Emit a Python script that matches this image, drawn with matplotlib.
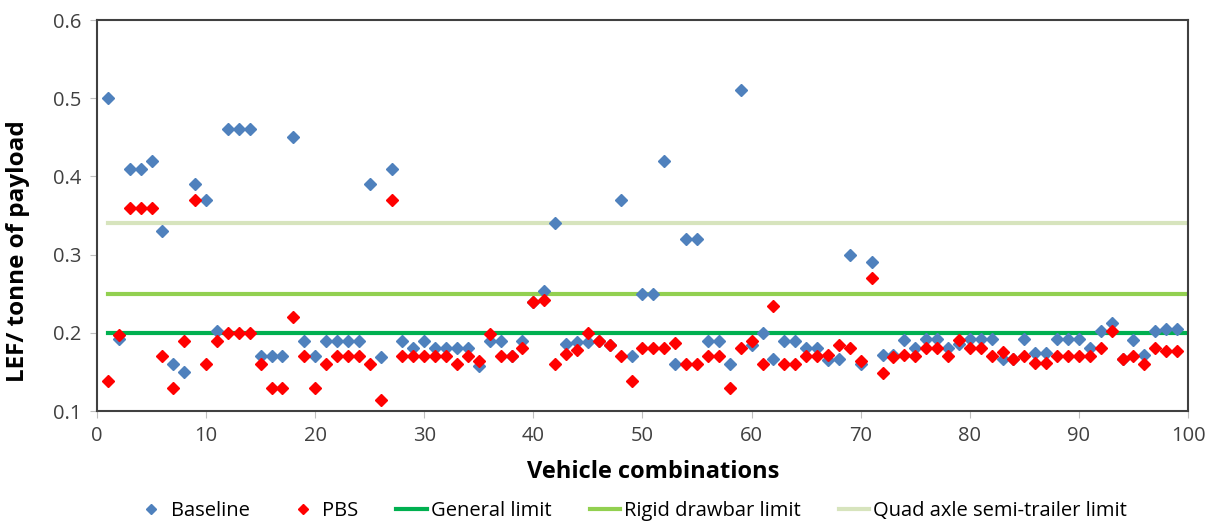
import matplotlib.pyplot as plt
from matplotlib.ticker import MultipleLocator

plt.rcParams['font.family'] = ['Open Sans', 'DejaVu Sans']

# vehicle combination number
vehicles = list(range(1, 100))

baseline = [0.50, 0.192, 0.41, 0.41, 0.42, 0.33, 0.16, 0.15, 0.39, 0.37,
            0.202, 0.46, 0.46, 0.46, 0.171, 0.171, 0.171, 0.45, 0.19, 0.17,
            0.19, 0.19, 0.19, 0.19, 0.39, 0.169, 0.41, 0.19, 0.18, 0.19,
            0.18, 0.18, 0.18, 0.18, 0.158, 0.19, 0.19, 0.17, 0.19, 0.24,
            0.254, 0.34, 0.186, 0.188, 0.188, 0.19, 0.185, 0.37, 0.171, 0.25,
            0.25, 0.42, 0.16, 0.32, 0.32, 0.19, 0.19, 0.16, 0.51, 0.185,
            0.20, 0.167, 0.19, 0.19, 0.18, 0.18, 0.165, 0.167, 0.30, 0.16,
            0.29, 0.172, 0.172, 0.191, 0.181, 0.192, 0.192, 0.181, 0.186, 0.192,
            0.192, 0.192, 0.167, 0.167, 0.192, 0.174, 0.174, 0.192, 0.192, 0.192,
            0.181, 0.202, 0.212, 0.167, 0.191, 0.172, 0.202, 0.205, 0.205]

pbs = [0.139, 0.197, 0.36, 0.36, 0.36, 0.17, 0.13, 0.19, 0.37, 0.16,
       0.19, 0.20, 0.20, 0.20, 0.16, 0.13, 0.13, 0.22, 0.17, 0.13,
       0.16, 0.17, 0.17, 0.17, 0.16, 0.114, 0.37, 0.17, 0.17, 0.17,
       0.17, 0.17, 0.16, 0.17, 0.164, 0.199, 0.17, 0.17, 0.18, 0.24,
       0.242, 0.16, 0.173, 0.178, 0.20, 0.19, 0.185, 0.17, 0.139, 0.18,
       0.18, 0.18, 0.187, 0.16, 0.16, 0.17, 0.17, 0.13, 0.18, 0.19,
       0.16, 0.234, 0.16, 0.16, 0.17, 0.17, 0.172, 0.184, 0.18, 0.164,
       0.27, 0.148, 0.169, 0.172, 0.17, 0.18, 0.18, 0.171, 0.191, 0.18,
       0.18, 0.171, 0.175, 0.167, 0.171, 0.161, 0.161, 0.171, 0.17, 0.171,
       0.171, 0.18, 0.202, 0.167, 0.17, 0.16, 0.18, 0.177, 0.177]

limit_x = [1, 100]
general_limit = 0.2
rigid_drawbar_limit = 0.25
quad_axle_limit = 0.34

fig = plt.figure(figsize=(12.15, 5.24), dpi=100)
ax = fig.add_axes([0.0798, 0.2156, 0.898, 0.7462])

ax.plot(limit_x, [general_limit] * 2, color='#00B050', lw=3, label='General limit', zorder=2)
ax.plot(limit_x, [rigid_drawbar_limit] * 2, color='#92D050', lw=3, label='Rigid drawbar limit', zorder=2)
ax.plot(limit_x, [quad_axle_limit] * 2, color='#D7E4BD', lw=3, label='Quad axle semi-trailer limit', zorder=2)
ax.plot(vehicles, baseline, ls='none', marker='D', ms=6, color='#4F81BD', label='Baseline', zorder=3)
ax.plot(vehicles, pbs, ls='none', marker='D', ms=6, color='#FF0000', label='PBS', zorder=4)

ax.set_xlim(0, 100)
ax.set_ylim(0.1, 0.6)
ax.xaxis.set_major_locator(MultipleLocator(10))
yt = [0.1, 0.2, 0.3, 0.4, 0.5, 0.6]
ax.set_yticks(yt, [f'{v:.1f}' for v in yt])
ax.tick_params(direction='out', length=5, color='#BFBFBF', labelsize=14.5, labelcolor='#404040', pad=6)
for s in ax.spines.values():
    s.set_color('#404040')
    s.set_linewidth(1.5)

ax.set_xlabel('Vehicle combinations', fontsize=17, fontweight='bold')
ax.set_ylabel('LEF/ tonne of payload', fontsize=17.5, fontweight='bold')
ax.xaxis.set_label_coords(0.51, -0.125)
ax.yaxis.set_label_coords(-0.061, 0.41)

handles, labels = ax.get_legend_handles_labels()
order = [3, 4, 0, 1, 2]
ax.legend([handles[i] for i in order], [labels[i] for i in order],
          loc='center', bbox_to_anchor=(0.49, -0.255), ncol=5, frameon=False,
          fontsize=14.5, handlelength=1.5, handletextpad=0.2, columnspacing=1.9,
          markerscale=0.8, borderpad=0)

fig.savefig('out.png', dpi=100)
